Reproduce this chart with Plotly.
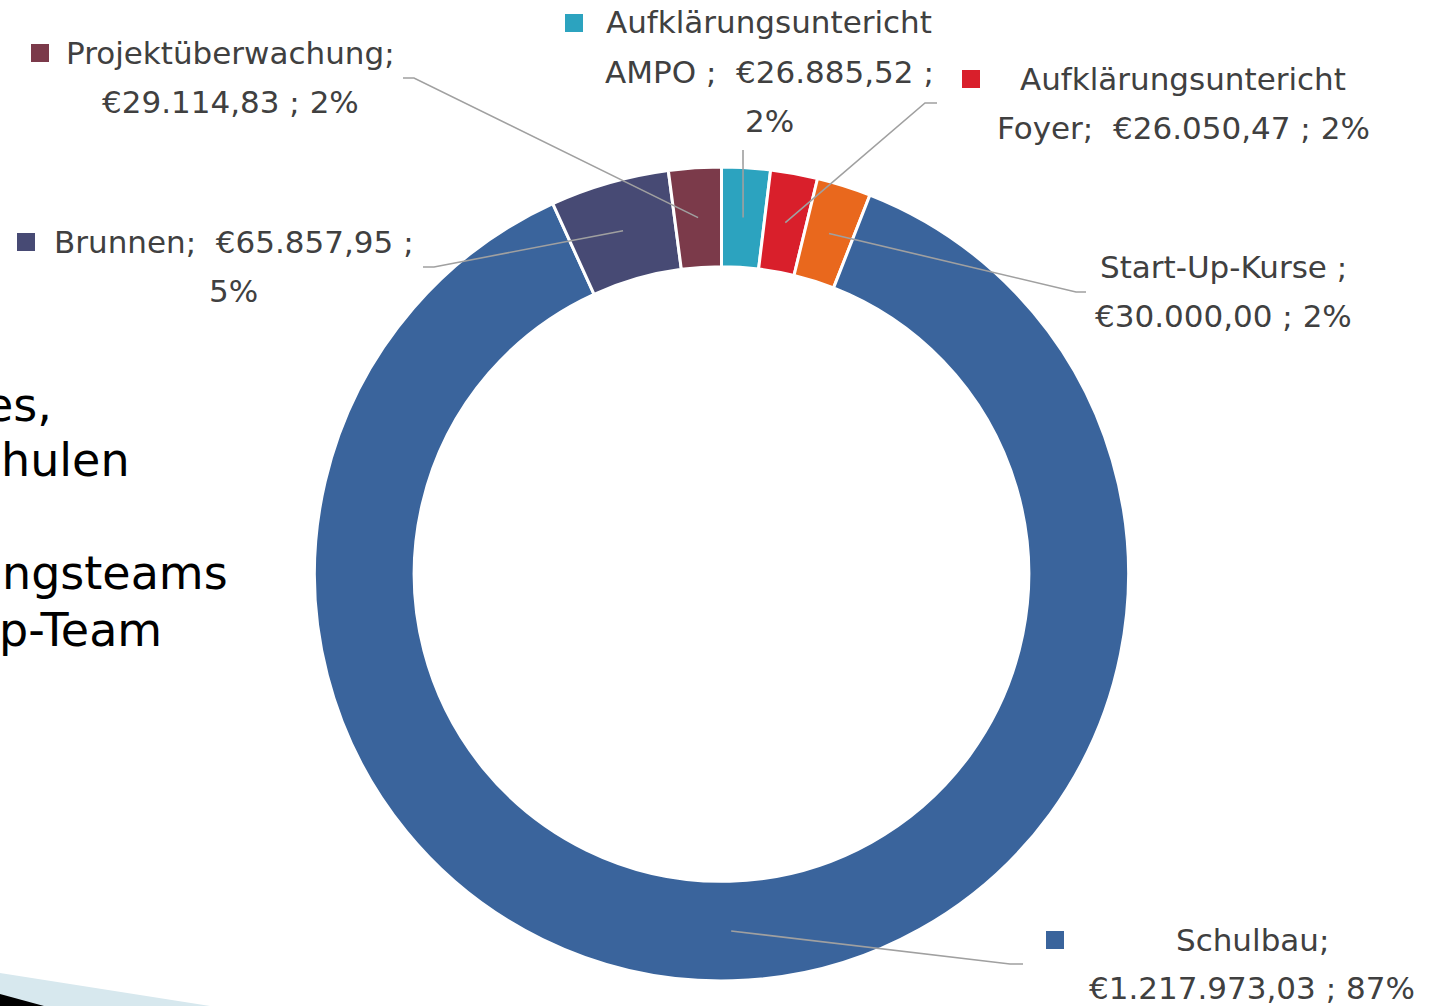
import math
import plotly.graph_objects as go

# ---------------- data ----------------
categories = [
    "Aufklärungsuntericht AMPO",
    "Aufklärungsuntericht Foyer",
    "Start-Up-Kurse",
    "Schulbau",
    "Brunnen",
    "Projektüberwachung",
]
values = [26885.52, 26050.47, 30000.00, 1217973.03, 65857.95, 29114.83]
value_labels = ["€26.885,52", "€26.050,47", "€30.000,00", "€1.217.973,03", "€65.857,95", "€29.114,83"]
pct_labels = ["2%", "2%", "2%", "87%", "5%", "2%"]
colors = ["#2CA3BF", "#D91F2B", "#E9681D", "#3A649C", "#474A74", "#7B3A4A"]

# label text lines (as shown on the slide)
label_lines = [
    ["Aufklärungsuntericht", "AMPO ;  " + value_labels[0] + " ;", pct_labels[0]],
    ["Aufklärungsuntericht", "Foyer;  " + value_labels[1] + " ; " + pct_labels[1]],
    ["Start-Up-Kurse ;", value_labels[2] + " ; " + pct_labels[2]],
    ["Schulbau;", value_labels[3] + " ; " + pct_labels[3]],
    ["Brunnen;  " + value_labels[4] + " ;", pct_labels[4]],
    ["Projektüberwachung;", value_labels[5] + " ; " + pct_labels[5]],
]

# partially visible slide text on the left
side_text = ["es,", "hulen", "ngsteams", "p-Team"]

# ---------------- layout (pixels) ----------------
W, H = 1439, 1006
CX, CY = 721.5, 574.0
R_OUT = 407.0
HOLE = 0.755
R_MID = (R_OUT + R_OUT * HOLE) / 2

# label block: text center x, first-line center y, line spacing
label_pos = [
    (769, 22, 49.5),
    (1183, 79, 49),
    (1223, 267, 49),
    (1252, 940, 48),
    (234, 242, 49),
    (231, 53, 49),
]
# legend key squares (x0, y0) ; None = no key
key_pos = [(565, 14), (962, 70), None, (1046, 931), (17, 233), (31, 44)]
KEY = 18
# leader line: list of points after the start point
leader_pts = [
    [(743, 150)],
    [(925, 103), (937, 103)],
    [(1076, 292), (1086, 292)],
    [(1010, 964), (1023, 964)],
    [(434, 267), (423, 267)],
    [(414, 78), (403, 78)],
]
side_pos = [(54, 405), (132, 460), (230, 573), (164, 630)]


def px(x):
    return x / W


def py(y):
    return 1 - y / H


FONT = "DejaVu Sans"
TXT = "#404040"

fig = go.Figure()
fig.add_trace(
    go.Pie(
        labels=categories,
        values=values,
        sort=False,
        direction="clockwise",
        rotation=0,
        hole=HOLE,
        marker=dict(colors=colors, line=dict(color="white", width=3)),
        textinfo="none",
        hoverinfo="label+value+percent",
        showlegend=False,
        domain=dict(
            x=[px(CX - R_OUT), px(CX + R_OUT)],
            y=[py(CY + R_OUT), py(CY - R_OUT)],
        ),
    )
)

shapes = []
annotations = []

total = sum(values)
cum = 0.0
for i, v in enumerate(values):
    mid = (cum + v / 2) / total * 2 * math.pi
    cum += v
    sx = CX + R_MID * math.sin(mid)
    sy = CY - R_MID * math.cos(mid)
    pts = [(sx, sy)] + leader_pts[i]
    path = "M " + " L ".join(f"{px(x)},{py(y)}" for x, y in pts)
    shapes.append(
        dict(type="path", xref="paper", yref="paper", path=path,
             line=dict(color="#A0A0A0", width=1.6))
    )
    tx, ty, dy = label_pos[i]
    for j, line in enumerate(label_lines[i]):
        annotations.append(
            dict(x=px(tx), y=py(ty + j * dy), xref="paper", yref="paper",
                 text=line, showarrow=False, xanchor="center", yanchor="middle",
                 font=dict(family=FONT, size=31, color=TXT))
        )
    if key_pos[i] is not None:
        kx, ky = key_pos[i]
        shapes.append(
            dict(type="rect", xref="paper", yref="paper",
                 x0=px(kx), x1=px(kx + KEY), y0=py(ky + KEY), y1=py(ky),
                 fillcolor=colors[i], line=dict(width=0))
        )

for t, (x, y) in zip(side_text, side_pos):
    annotations.append(
        dict(x=px(x), y=py(y), xref="paper", yref="paper", text=t,
             showarrow=False, xanchor="right", yanchor="middle",
             font=dict(family=FONT, size=46, color="#000000"))
    )

# slide decoration bottom-left
shapes.append(dict(type="path", xref="paper", yref="paper",
                   path=f"M {px(0)},{py(973)} L {px(210)},{py(1006)} L {px(0)},{py(1006)} Z",
                   fillcolor="#D7E8EE", line=dict(width=0)))
shapes.append(dict(type="path", xref="paper", yref="paper",
                   path=f"M {px(0)},{py(994)} L {px(44)},{py(1006)} L {px(0)},{py(1006)} Z",
                   fillcolor="#000000", line=dict(width=0)))

fig.update_layout(
    width=W, height=H,
    margin=dict(l=0, r=0, t=0, b=0),
    paper_bgcolor="white",
    plot_bgcolor="white",
    shapes=shapes,
    annotations=annotations,
    showlegend=False,
)

fig.write_html(
    "out.html",
    config={"displayModeBar": False},
    post_script="document.body.style.margin='0';document.body.style.overflow='hidden';",
)
